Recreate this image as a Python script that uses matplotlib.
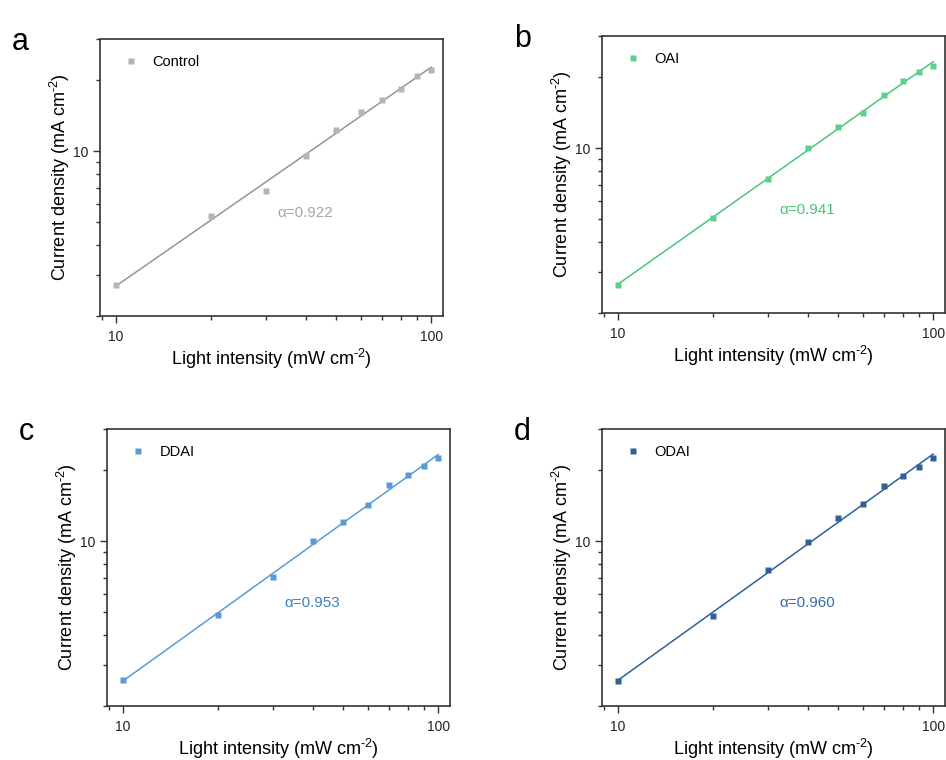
import matplotlib.pyplot as plt
from matplotlib.ticker import LogLocator, NullFormatter, FixedLocator, FixedFormatter
import numpy as np

plt.rcParams['font.family'] = ['Liberation Sans', 'DejaVu Sans']
plt.rcParams['mathtext.fontset'] = 'custom'
plt.rcParams['mathtext.rm'] = 'Liberation Sans'
plt.rcParams['mathtext.default'] = 'regular'

# light intensity (mW cm-2)
intensity = [10, 20, 30, 40, 50, 60, 70, 80, 90, 100]

# current density (mA cm-2)
j_control = [2.71, 5.30, 6.77, 9.56, 12.29, 14.72, 16.6, 18.4, 20.9, 22.2]
j_oai = [2.64, 5.05, 7.43, 10.07, 12.29, 14.1, 16.9, 19.4, 21.2, 22.4]
j_ddai = [2.58, 4.89, 7.06, 10.0, 12.05, 14.3, 17.3, 19.2, 20.8, 22.5]
j_odai = [2.56, 4.80, 7.53, 9.97, 12.56, 14.4, 17.1, 19.0, 20.6, 22.7]

labels = ['Control', 'OAI', 'DDAI', 'ODAI']
alphas = ['0.922', '0.941', '0.953', '0.960']
panel_letters = ['a', 'b', 'c', 'd']
marker_colors = ['#b5b5b5', '#5cd08c', '#5b9bd5', '#2f6197']
line_colors = ['#959595', '#4cc47b', '#5b9bd5', '#2f6197']
text_colors = ['#a6a6a6', '#4cc47b', '#3f7fc0', '#3a6ca8']
series = [j_control, j_oai, j_ddai, j_odai]

# axes rectangles in pixels (left, top, right, bottom)
boxes = [(100, 39, 443, 316), (602, 36, 945, 313),
         (107, 429, 450, 706), (602, 429, 945, 706)]
W, H = 946, 760

fig = plt.figure(figsize=(W / 100, H / 100), dpi=100)

for i in range(4):
    l, t, r, b = boxes[i]
    ax = fig.add_axes([l / W, 1 - b / H, (r - l) / W, (b - t) / H])
    x = np.array(intensity)
    y = np.array(series[i])

    # power-law fit on log-log data
    k, c = np.polyfit(np.log10(x), np.log10(y), 1)
    xf = np.array([10, 100])
    ax.plot(xf, 10 ** (c + k * np.log10(xf)), color=line_colors[i], lw=1.1, zorder=2)
    ax.plot(x, y, 's', color=marker_colors[i], ms=5, mec='none', label=labels[i], zorder=3)

    ax.set_xscale('log')
    ax.set_yscale('log')
    ax.set_xlim(8.9, 109)
    ax.set_ylim(2, 30)

    ax.xaxis.set_major_locator(FixedLocator([10, 100]))
    ax.xaxis.set_major_formatter(FixedFormatter(['10', '100']))
    ax.xaxis.set_minor_locator(LogLocator(base=10, subs=np.arange(2, 10)))
    ax.xaxis.set_minor_formatter(NullFormatter())
    ax.yaxis.set_major_locator(FixedLocator([10]))
    ax.yaxis.set_major_formatter(FixedFormatter(['10']))
    ax.yaxis.set_minor_locator(LogLocator(base=10, subs=np.arange(2, 10)))
    ax.yaxis.set_minor_formatter(NullFormatter())

    ax.tick_params(which='major', direction='out', length=5, width=1, labelsize=10,
                   color='#333333', labelcolor='#222222')
    ax.tick_params(axis='x', which='major', pad=5)
    ax.tick_params(which='minor', direction='out', length=3, width=1, color='#333333')
    for s in ax.spines.values():
        s.set_linewidth(1.2)
        s.set_color('#333333')

    ax.set_xlabel('Light intensity (mW cm$^{\\text{-}2}$)', fontsize=13, labelpad=2)
    ax.set_ylabel('Current density (mA cm$^{\\text{-}2}$)', fontsize=13, labelpad=0.5)

    ax.text(32.5, 5.5, '\u03b1=' + alphas[i], color=text_colors[i], fontsize=11,
            ha='left', va='center')

    ax.legend(loc='upper left', frameon=False, fontsize=10.5, markerscale=0.75,
              handlelength=1.0, handletextpad=1.0, borderaxespad=0.5,
              bbox_to_anchor=(0.03, 0.99))

    fig.text((l - 88) / W, 1 - (t - 12) / H, panel_letters[i], fontsize=22,
             ha='left', va='top')

fig.savefig('out.png', dpi=100)
